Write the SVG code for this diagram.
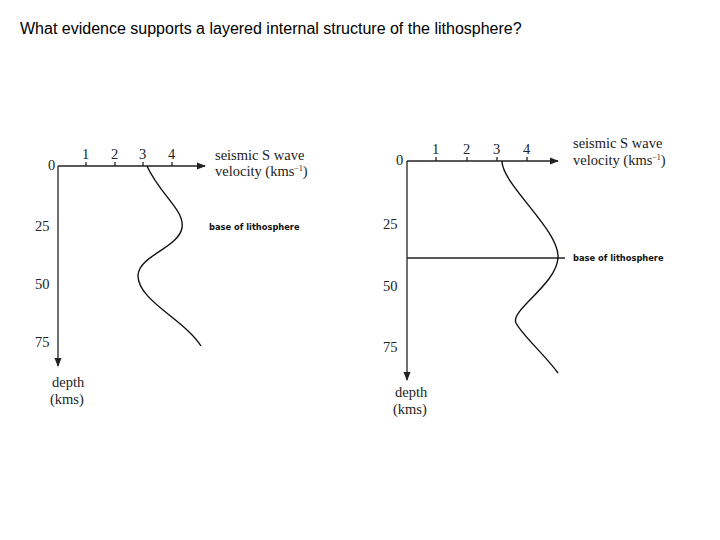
<svg xmlns="http://www.w3.org/2000/svg" width="720" height="540" viewBox="0 0 720 540">
<style>
.t{font-family:"Liberation Serif",serif;font-size:14.5px;fill:#222}
.s{font-family:"DejaVu Sans",sans-serif;font-size:8.3px;font-weight:bold;fill:#111}
.ax{stroke:#222;stroke-width:1.3;fill:none}
.c{stroke:#111;stroke-width:1.4;fill:none}
</style>
<defs><marker id="a" viewBox="0 0 10 10" refX="9" refY="5" markerWidth="7" markerHeight="7" orient="auto"><path d="M0,1 L10,5 L0,9 Z" fill="#222"/></marker></defs>
<rect width="720" height="540" fill="#fff"/>
<text x="20" y="34" font-family="Liberation Sans,Arial,sans-serif" font-size="16" fill="#000">What evidence supports a layered internal structure of the lithosphere?</text>
<g id="chart1">
<g class="connectors">
<path class="ax" d="M58,166 H205" marker-end="url(#a)"/>
<path class="ax" d="M58,166 V366" marker-end="url(#a)"/>
<path class="ax" d="M86,166v-4M115,166v-4M143,166v-4M172,166v-4"/>
<path class="c" d="M147,166 C160,195 185,210 182,228 C178,248 140,255 138,275 C137,300 185,320 201,346"/>
</g>
<text class="t" x="48" y="170">0</text>
<text class="t" x="82" y="159">1</text><text class="t" x="111" y="159">2</text><text class="t" x="139" y="159">3</text><text class="t" x="168" y="159">4</text>
<text class="t" x="35" y="231">25</text><text class="t" x="35" y="289">50</text><text class="t" x="35" y="347">75</text>
<text class="t" x="215" y="160">seismic S wave</text>
<text class="t" x="215" y="176">velocity (kms<tspan font-size="8" dy="-5">−1</tspan><tspan dy="5">)</tspan></text>
<text class="s" x="209" y="230">base of lithosphere</text>
<text class="t" x="52" y="387">depth</text><text class="t" x="50" y="404">(kms)</text>
</g>
<g id="chart2">
<g class="connectors">
<path class="ax" d="M407,161 H558" marker-end="url(#a)"/>
<path class="ax" d="M407,161 V380" marker-end="url(#a)"/>
<path class="ax" d="M436,161v-4M467,161v-4M497,161v-4M527,161v-4"/>
<path class="ax" d="M407,258 H565"/>
<path class="c" d="M502,161 C502,185 560,230 558,258 C556,285 510,310 516,323 C522,335 545,355 558,373"/>
</g>
<text class="t" x="396" y="165">0</text>
<text class="t" x="432" y="154">1</text><text class="t" x="463" y="154">2</text><text class="t" x="493" y="154">3</text><text class="t" x="523" y="154">4</text>
<text class="t" x="383" y="229">25</text><text class="t" x="383" y="291">50</text><text class="t" x="383" y="352">75</text>
<text class="t" x="573" y="148">seismic S wave</text>
<text class="t" x="573" y="165">velocity (kms<tspan font-size="8" dy="-5">−1</tspan><tspan dy="5">)</tspan></text>
<text class="s" x="573" y="261">base of lithosphere</text>
<text class="t" x="395" y="397">depth</text><text class="t" x="393" y="414">(kms)</text>
</g>
</svg>
